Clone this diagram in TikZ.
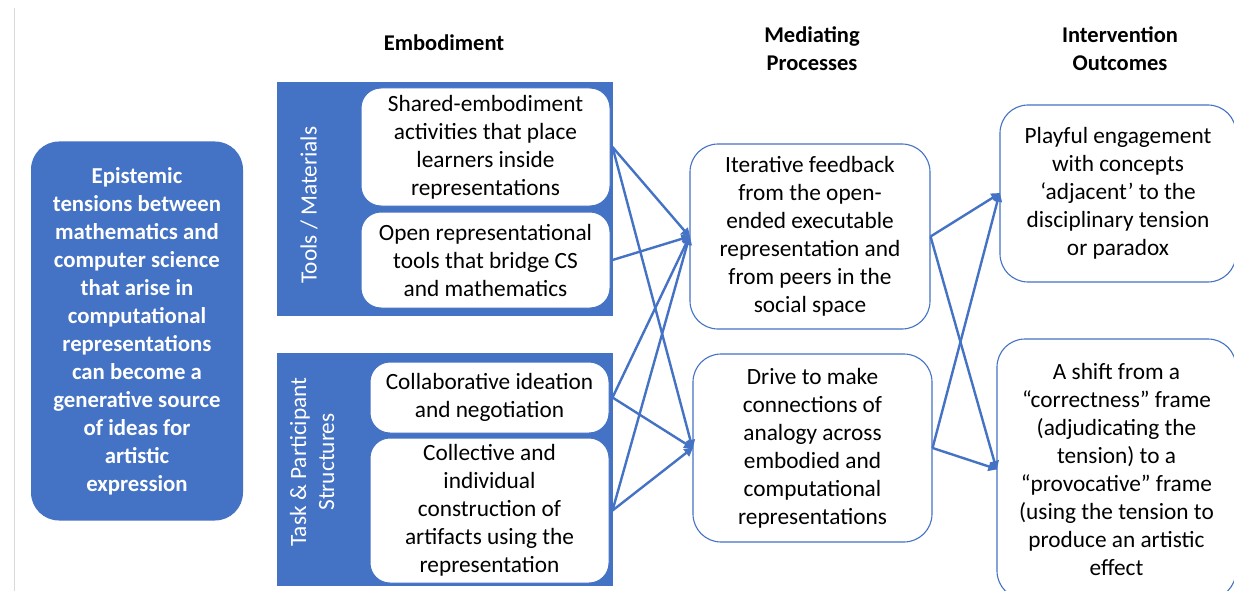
\documentclass[tikz,border=0pt]{standalone}
\usepackage{fontspec}
\setmainfont{Carlito}
\usetikzlibrary{arrows.meta,calc}
\definecolor{office}{HTML}{4472C4}
\tikzset{
  body/.style={font=\fontsize{23.3}{28}\selectfont, align=center},
  head/.style={font=\bfseries\fontsize{22.5}{28}\selectfont, align=center},
  bluepanel/.style={fill=office, draw=office, line width=1pt, inner sep=0pt},
  itembox/.style={body, fill=white, draw=office, line width=1pt, rounded corners=20pt, inner sep=0pt},
  procbox/.style={body, fill=white, draw=office, line width=1.1pt, rounded corners=28pt, inner sep=0pt},
  sidelabel/.style={font=\fontsize{23.3}{28}\selectfont, text=white, align=center, rotate=90},
  link/.style={draw=office, line width=2.4pt, -{Triangle[length=9pt,width=9pt]}, shorten >=-1pt}
}
\begin{document}
\begin{tikzpicture}[x=1pt,y=-1pt]
\useasboundingbox (0,0) rectangle (1234,591);
\clip (0,0) rectangle (1234,591);
\fill[white] (0,0) rectangle (1234,591);
% page edge rule
\draw[black!15, line width=0.8pt] (14,8) -- (14,591);

% column headings
\node[head] (hemb) at (444,43) {Embodiment};
\node[head] (hmed) at (812,49) {Mediating\\Processes};
\node[head] (hout) at (1120,49) {Intervention\\Outcomes};

% source box
\node[fill=office, rounded corners=28pt, minimum width=212pt, minimum height=379pt, inner sep=0pt,
      text=white, font=\bfseries\fontsize{22.8}{28}\selectfont, align=center] (src) at (137,331)
  {Epistemic\\tensions between\\mathematics and\\computer science\\that arise in\\computational\\representations\\can become a\\generative source\\of ideas for\\artistic\\expression};

% embodiment panels
\node[bluepanel, minimum width=335pt, minimum height=232pt] (tools) at (444.5,199) {};
\node[bluepanel, minimum width=335pt, minimum height=232pt] (task) at (444.5,469) {};
\node[sidelabel] (toolslbl) at (309,205) {Tools / Materials};
\node[sidelabel] (tasklbl) at (312,462) {Task \& Participant\\Structures};

\node[itembox, minimum width=249pt, minimum height=118pt] (shared) at (485.5,147)
  {Shared-embodiment\\activities that place\\learners inside\\representations};
\node[itembox, minimum width=249pt, minimum height=96pt] (open) at (485.5,260)
  {Open representational\\tools that bridge CS\\and mathematics};
\node[itembox, minimum width=239pt, minimum height=71pt] (collab) at (489.5,397.5)
  {Collaborative ideation\\and negotiation};
\node[itembox, minimum width=239pt, minimum height=145pt] (collect) at (489.5,510.5)
  {Collective and\\individual\\construction of\\artifacts using the\\representation};

% mediating processes
\node[procbox, minimum width=240pt, minimum height=185pt] (med1) at (810,236.5)
  {Iterative feedback\\from the open-\\ended executable\\representation and\\from peers in the\\social space};
\node[procbox, minimum width=239pt, minimum height=188pt] (med2) at (812.5,448)
  {Drive to make\\connections of\\analogy across\\embodied and\\computational\\representations};

% outcomes
\node[procbox, minimum width=236pt, minimum height=177pt] (out1) at (1118,193.5)
  {Playful engagement\\with concepts\\‘adjacent’ to the\\disciplinary tension\\or paradox};
\node[procbox, minimum width=239pt, minimum height=260pt] (out2) at (1116.5,469)
  {A shift from a\\“correctness” frame\\(adjudicating the\\tension) to a\\“provocative” frame\\(using the tension to\\produce an artistic\\effect};

% connectors: embodiment -> mediating processes
\draw[link] (shared.east -| tools.east) -- (med1.west);
\draw[link] (shared.east -| tools.east) -- (med2.west);
\draw[link] (open.east -| tools.east) -- (med1.west);
\draw[link] (collab.east -| task.east) -- (med1.west);
\draw[link] (collab.east -| task.east) -- (med2.west);
\draw[link] (collect.east -| task.east) -- (med1.west);
\draw[link] (collect.east -| task.east) -- (med2.west);

% connectors: mediating processes -> outcomes
\draw[link] (med1.east) -- (out1.west);
\draw[link] (med1.east) -- (out2.west);
\draw[link] (med2.east) -- (out1.west);
\draw[link] (med2.east) -- (out2.west);
\end{tikzpicture}
\end{document}
